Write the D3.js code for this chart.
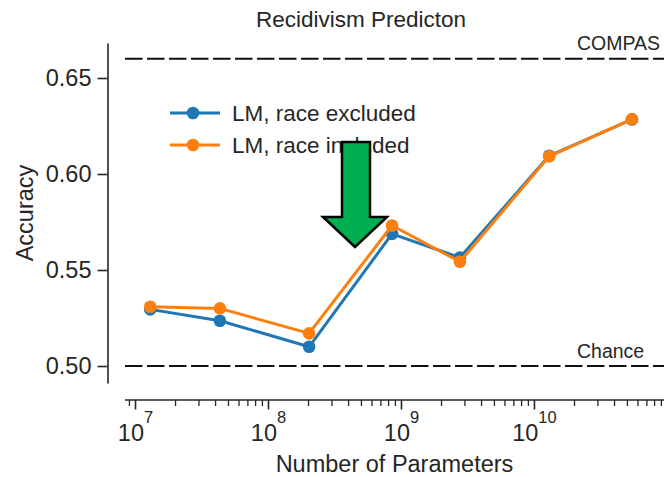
<!DOCTYPE html>
<html>
<head>
<meta charset="utf-8">
<script src="https://cdn.jsdelivr.net/npm/d3@7"></script>
<style>
  html, body { margin: 0; padding: 0; background: #fff; }
  svg { display: block; }
  text { font-family: "Liberation Sans", Arial, Helvetica, sans-serif; fill: #262626; }
</style>
</head>
<body>
<svg id="chart" width="666" height="477"></svg>
<script>
// Model sizes (number of parameters) and test accuracy
const params = [1.29e7, 4.31e7, 2.02e8, 8.49e8, 2.75e9, 1.29e10, 5.41e10];
const accExcluded = [0.5295, 0.5236, 0.5100, 0.5688, 0.5565, 0.6095, 0.6284];
const accIncluded = [0.5309, 0.5300, 0.5170, 0.5732, 0.5543, 0.6092, 0.6286];
const seriesNames = ["LM, race excluded", "LM, race included"];
const seriesColors = ["#1f77b4", "#ff7f0e"];

// Reference levels
const compasAcc = 0.66;
const chanceAcc = 0.50;
const refNames = ["COMPAS", "Chance"];

const yTicks = [0.50, 0.55, 0.60, 0.65];
const xMajorExp = [7, 8, 9, 10];

const svg = d3.select("#chart");

// plotting area
const plot = { left: 125, right: 664, top: 43, bottom: 383 };
const yAxisX = 107.5;   // offset left spine
const xAxisY = 400;     // offset bottom spine

const x = d3.scaleLog()
  .domain([Math.pow(10, 6.921), Math.pow(10, 10.974)])
  .range([plot.left, plot.right]);

const y = d3.scaleLinear()
  .domain([0.49115, 0.66823])
  .range([plot.bottom, plot.top]);

// ---- y axis ----
const yAxis = d3.axisLeft(y)
  .tickValues(yTicks)
  .tickFormat(d3.format(".2f"))
  .tickSize(10)
  .tickSizeOuter(0)
  .tickPadding(6);

const gy = svg.append("g")
  .attr("transform", `translate(${yAxisX},0)`)
  .call(yAxis);
gy.select(".domain").attr("stroke", "#262626").attr("stroke-width", 1.6);
gy.selectAll(".tick line").attr("stroke", "#262626").attr("stroke-width", 1.6);
gy.selectAll(".tick text")
  .style("font-size", "23.5px")
  .style("font-family", "Liberation Sans, Arial, sans-serif")
  .attr("fill", "#262626");

// ---- x axis (log, with minor ticks) ----
const [d0, d1] = x.domain();
const minor = [];
for (let e = 6; e <= 11; e++) {
  for (let k = 2; k <= 9; k++) {
    const v = k * Math.pow(10, e);
    if (v >= d0 && v <= d1) minor.push(v);
  }
}
const gx = svg.append("g").attr("transform", `translate(0,${xAxisY})`);
gx.append("line")
  .attr("x1", plot.left).attr("x2", plot.right)
  .attr("stroke", "#262626").attr("stroke-width", 1.6);
gx.selectAll("line.minor").data(minor).join("line")
  .attr("class", "minor")
  .attr("x1", d => x(d)).attr("x2", d => x(d))
  .attr("y1", 0).attr("y2", 6)
  .attr("stroke", "#262626").attr("stroke-width", 1.3);
const majorVals = xMajorExp.map(e => Math.pow(10, e));
gx.selectAll("line.major").data(majorVals).join("line")
  .attr("class", "major")
  .attr("x1", d => x(d)).attr("x2", d => x(d))
  .attr("y1", 0).attr("y2", 9.5)
  .attr("stroke", "#262626").attr("stroke-width", 1.6);
const xl = gx.selectAll("text.major").data(xMajorExp).join("text")
  .attr("class", "major")
  .attr("x", e => x(Math.pow(10, e)))
  .attr("y", 41)
  .attr("text-anchor", "middle")
  .style("font-size", "23.5px");
xl.append("tspan").text("10");
xl.append("tspan")
  .attr("dy", -18)
  .style("font-size", "16.5px")
  .text(e => e);

// ---- axis titles ----
svg.append("text")
  .attr("x", (plot.left + plot.right) / 2)
  .attr("y", 472)
  .attr("text-anchor", "middle")
  .style("font-size", "23.5px")
  .text("Number of Parameters");

svg.append("text")
  .attr("transform", `translate(33,${(plot.top + plot.bottom) / 2}) rotate(-90)`)
  .attr("text-anchor", "middle")
  .style("font-size", "23.5px")
  .text("Accuracy");

svg.append("text")
  .attr("x", 361)
  .attr("y", 27)
  .attr("text-anchor", "middle")
  .style("font-size", "22.5px")
  .text("Recidivism Predicton");

// ---- reference lines ----
[compasAcc, chanceAcc].forEach((v, i) => {
  svg.append("line")
    .attr("x1", plot.left).attr("x2", plot.right)
    .attr("y1", y(v)).attr("y2", y(v))
    .attr("stroke", "#111")
    .attr("stroke-width", 2)
    .attr("stroke-dasharray", "17.5,4.5");
  svg.append("text")
    .attr("x", 577)
    .attr("y", y(v) - 8.5)
    .style("font-size", "19.5px")
    .text(refNames[i]);
});

// ---- data series ----
const series = [accExcluded, accIncluded];
const line = d3.line()
  .x((d, i) => x(params[i]))
  .y(d => y(d));

series.forEach((vals, s) => {
  const g = svg.append("g");
  g.append("path")
    .datum(vals)
    .attr("d", line)
    .attr("fill", "none")
    .attr("stroke", seriesColors[s])
    .attr("stroke-width", 3)
    .attr("stroke-linejoin", "round");
  g.selectAll("circle").data(vals).join("circle")
    .attr("cx", (d, i) => x(params[i]))
    .attr("cy", d => y(d))
    .attr("r", 6.3)
    .attr("fill", seriesColors[s]);
});

// ---- legend ----
const legend = svg.append("g").attr("transform", "translate(170,113)");
seriesNames.forEach((name, s) => {
  const row = legend.append("g").attr("transform", `translate(0,${s * 32})`);
  row.append("line")
    .attr("x1", 0).attr("x2", 50)
    .attr("stroke", seriesColors[s]).attr("stroke-width", 3);
  row.append("circle").attr("cx", 23).attr("r", 6.3).attr("fill", seriesColors[s]);
  row.append("text")
    .attr("x", 62).attr("y", 8)
    .style("font-size", "22.5px")
    .text(name);
});

// ---- annotation arrow ----
const arrow = [
  [342, 142], [370, 142], [370, 217], [387, 217],
  [355, 247], [323, 217], [342, 217]
];
svg.append("path")
  .attr("d", d3.line()(arrow) + "Z")
  .attr("fill", "#00b050")
  .attr("stroke", "#000")
  .attr("stroke-width", 2.5)
  .attr("stroke-linejoin", "miter");
</script>
</body>
</html>
